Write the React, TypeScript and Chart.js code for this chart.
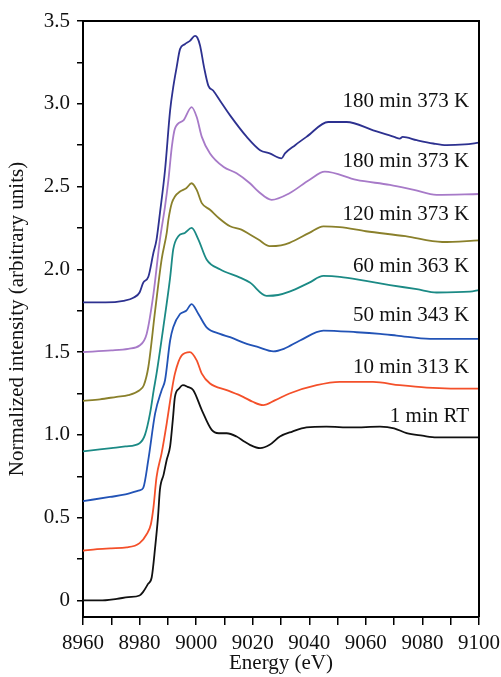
import React, { useEffect, useRef } from "react";
import { Chart, registerables } from "chart.js";

Chart.register(...registerables);

// ---- Data ----
const seriesNames = [
  "180 min 373 K",
  "180 min 373 K",
  "120 min 373 K",
  "60 min 363 K",
  "50 min 343 K",
  "10 min 313 K",
  "1 min RT",
];
const seriesColors = ["#2d3190", "#a77ac8", "#8a802b", "#1b8a85", "#2253b6", "#f4502a", "#111111"];

const energyA = [8960, 8968, 8974.3, 8978, 8980, 8981.3, 8983.1, 8984.9, 8986, 8987.2, 8989, 8990.8, 8991.9, 8993.1, 8994.3, 8996, 8997.8, 8999.6, 9000.4, 9001.4, 9002.8, 9004.3, 9006, 9008.4, 9012, 9017.9, 9022.6, 9026, 9030.2, 9031.4, 9035, 9039, 9046.7, 9053.2, 9062.6, 9070, 9072, 9073, 9078, 9083.8, 9088.5, 9095, 9100];
const intensityA = [1.80, 1.80, 1.81, 1.83, 1.86, 1.92, 1.955, 2.10, 2.18, 2.34, 2.60, 2.96, 3.10, 3.22, 3.33, 3.36, 3.38, 3.41, 3.40, 3.35, 3.22, 3.11, 3.08, 3.02, 2.93, 2.80, 2.72, 2.70, 2.67, 2.70, 2.75, 2.80, 2.89, 2.89, 2.84, 2.80, 2.79, 2.80, 2.78, 2.76, 2.75, 2.755, 2.765];

const energyB = [8960, 8970, 8976, 8980, 8982.5, 8984.9, 8987.2, 8989, 8990.2, 8991.4, 8992.5, 8995.5, 8998.4, 9000.2, 9002, 9004.9, 9009.6, 9014.3, 9019, 9022, 9026.7, 9033, 9040, 9045.5, 9056.7, 9068.5, 9077, 9085, 9100];
const intensityB = [1.50, 1.51, 1.52, 1.54, 1.61, 1.85, 2.18, 2.38, 2.54, 2.74, 2.85, 2.90, 2.98, 2.92, 2.80, 2.70, 2.62, 2.58, 2.52, 2.47, 2.42, 2.46, 2.54, 2.59, 2.54, 2.51, 2.48, 2.45, 2.455];

const energyC = [8960, 8966, 8971.9, 8976, 8980, 8981.5, 8983.1, 8985.5, 8987.8, 8989.6, 8990.2, 8991.4, 8992.5, 8994.3, 8996.5, 8998.4, 9000.2, 9002, 9004.9, 9008, 9012, 9016, 9019, 9022, 9026, 9030, 9033, 9040, 9045, 9050.8, 9060, 9074, 9087, 9100];
const intensityC = [1.205, 1.215, 1.23, 1.24, 1.27, 1.30, 1.41, 1.75, 2.06, 2.22, 2.30, 2.40, 2.44, 2.47, 2.49, 2.52, 2.48, 2.40, 2.36, 2.31, 2.26, 2.24, 2.21, 2.18, 2.14, 2.145, 2.16, 2.22, 2.26, 2.255, 2.23, 2.20, 2.165, 2.175];

const energyD = [8960, 8970, 8975, 8980, 8981.9, 8983.7, 8985, 8986, 8988.4, 8990.8, 8991.9, 8993.7, 8996, 8998.4, 9000.8, 9003.7, 9008.4, 9015.5, 9019, 9024.9, 9029, 9033, 9040, 9045, 9050.8, 9060, 9068.5, 9078, 9085, 9096.8, 9100];
const intensityD = [0.90, 0.92, 0.93, 0.95, 1.00, 1.13, 1.27, 1.37, 1.65, 1.95, 2.12, 2.20, 2.22, 2.25, 2.18, 2.06, 2.00, 1.95, 1.92, 1.84, 1.845, 1.865, 1.92, 1.96, 1.955, 1.93, 1.905, 1.88, 1.86, 1.865, 1.875];

const energyE = [8960, 8969.5, 8975, 8980, 8981.3, 8983.1, 8985.5, 8987.8, 8989, 8990.8, 8991.9, 8994.3, 8996.5, 8998.4, 9000.8, 9003.7, 9008.4, 9012, 9017.9, 9022, 9027.3, 9031, 9036.7, 9045, 9056.8, 9065, 9070.9, 9082.7, 9090, 9100];
const intensityE = [0.60, 0.625, 0.64, 0.665, 0.68, 0.85, 1.13, 1.27, 1.33, 1.57, 1.65, 1.73, 1.75, 1.79, 1.73, 1.65, 1.61, 1.59, 1.55, 1.53, 1.505, 1.52, 1.57, 1.63, 1.62, 1.61, 1.60, 1.58, 1.58, 1.58];

const energyF = [8960, 8965, 8970, 8975.4, 8980, 8982.5, 8984, 8984.9, 8986, 8987.8, 8989.6, 8991.4, 8992.5, 8994.9, 8997.8, 9000.2, 9002, 9004.9, 9010.8, 9016.6, 9020, 9023.7, 9028, 9033, 9042.6, 9050.8, 9062.5, 9072, 9081.5, 9090, 9100];
const intensityF = [0.30, 0.31, 0.315, 0.32, 0.346, 0.40, 0.46, 0.56, 0.745, 0.89, 1.07, 1.27, 1.37, 1.48, 1.50, 1.45, 1.37, 1.31, 1.27, 1.23, 1.20, 1.18, 1.21, 1.25, 1.30, 1.32, 1.32, 1.30, 1.285, 1.28, 1.28];

const energyG = [8960, 8966, 8972, 8976, 8980, 8981.2, 8983, 8984.3, 8985.5, 8986.5, 8987.2, 8988.5, 8989.6, 8990.8, 8991.8, 8992.5, 8994, 8995.3, 8997, 8999, 9002, 9005.5, 9008, 9010.8, 9014.3, 9017, 9019, 9022.6, 9026, 9029.6, 9034, 9039, 9046, 9055, 9065, 9070, 9074.4, 9080, 9085, 9092, 9100];
const intensityG = [0, 0.0, 0.01, 0.02, 0.03, 0.05, 0.10, 0.14, 0.32, 0.50, 0.67, 0.76, 0.85, 0.93, 1.10, 1.23, 1.28, 1.30, 1.29, 1.27, 1.15, 1.03, 1.01, 1.01, 0.99, 0.96, 0.94, 0.92, 0.94, 0.99, 1.02, 1.045, 1.05, 1.045, 1.05, 1.04, 1.01, 0.995, 0.985, 0.985, 0.985];

const seriesEnergy = [energyA, energyB, energyC, energyD, energyE, energyF, energyG];
const seriesIntensity = [intensityA, intensityB, intensityC, intensityD, intensityE, intensityF, intensityG];

// label anchors in data units
const labelEnergy = 9096.5;
const labelIntensity = [3.013, 2.65, 2.33, 2.015, 1.72, 1.41, 1.11];

const xTickValues = [8960, 8970, 8980, 8990, 9000, 9010, 9020, 9030, 9040, 9050, 9060, 9070, 9080, 9090, 9100];
const xTickLabels = ["8960", "", "8980", "", "9000", "", "9020", "", "9040", "", "9060", "", "9080", "", "9100"];
const yTickValues = [0, 0.25, 0.5, 0.75, 1.0, 1.25, 1.5, 1.75, 2.0, 2.25, 2.5, 2.75, 3.0, 3.25, 3.5];
const yTickLabels = ["0", "", "0.5", "", "1.0", "", "1.5", "", "2.0", "", "2.5", "", "3.0", "", "3.5"];

const FONT = '"Liberation Serif", "Times New Roman", serif';

export default function App() {
  const canvasRef = useRef<HTMLCanvasElement | null>(null);

  useEffect(() => {
    document.body.style.margin = "0";
    const canvas = canvasRef.current;
    if (!canvas) return;

    const framePlugin = {
      id: "frameAndLabels",
      afterDatasetsDraw(chart: any) {
        const { ctx, chartArea, scales } = chart;
        ctx.save();
        ctx.strokeStyle = "#000";
        ctx.lineWidth = 2;
        ctx.beginPath();
        ctx.moveTo(chartArea.left, chartArea.top);
        ctx.lineTo(chartArea.right, chartArea.top);
        ctx.lineTo(chartArea.right, chartArea.bottom);
        ctx.stroke();
        ctx.font = `21px ${FONT}`;
        ctx.fillStyle = "#111";
        ctx.textAlign = "right";
        ctx.textBaseline = "middle";
        seriesNames.forEach((name, i) => {
          ctx.fillText(name, scales.x.getPixelForValue(labelEnergy), scales.y.getPixelForValue(labelIntensity[i]));
        });
        ctx.restore();
      },
    };

    const chart = new Chart(canvas, {
      type: "line",
      data: {
        datasets: seriesNames.map((name, i) => ({
          label: name,
          data: seriesEnergy[i].map((e, j) => ({ x: e, y: seriesIntensity[i][j] })),
          borderColor: seriesColors[i],
          backgroundColor: seriesColors[i],
          borderWidth: 1.8,
          pointRadius: 0,
          cubicInterpolationMode: "monotone",
          fill: false,
        })),
      },
      options: {
        animation: false,
        responsive: false,
        maintainAspectRatio: false,
        layout: { padding: { left: 0, right: 22, top: 21, bottom: 0 } },
        plugins: { legend: { display: false }, tooltip: { enabled: false } },
        scales: {
          x: {
            type: "linear",
            min: 8960,
            max: 9100,
            afterBuildTicks: (axis: any) => {
              axis.ticks = xTickValues.map((v) => ({ value: v }));
            },
            afterFit: (axis: any) => {
              axis.height = 60;
              axis.paddingLeft = 0;
              axis.paddingRight = 0;
            },
            ticks: {
              autoSkip: false,
              maxRotation: 0,
              padding: 6,
              color: "#111",
              font: { family: FONT, size: 21 },
              callback: (v: any) => {
                const idx = xTickValues.indexOf(Number(v));
                return idx >= 0 ? xTickLabels[idx] : "";
              },
            },
            grid: { drawOnChartArea: false, drawTicks: true, tickLength: 8, color: "#000", lineWidth: 1.5 },
            border: { color: "#000", width: 2 },
            title: {
              display: true,
              text: "Energy (eV)",
              color: "#111",
              font: { family: FONT, size: 21 },
              padding: { top: 0, bottom: 1 },
            },
          },
          y: {
            type: "linear",
            min: -0.1,
            max: 3.5,
            afterBuildTicks: (axis: any) => {
              axis.ticks = yTickValues.map((v) => ({ value: v }));
            },
            afterFit: (axis: any) => {
              axis.width = 83;
              axis.paddingTop = 0;
              axis.paddingBottom = 0;
            },
            ticks: {
              autoSkip: false,
              padding: 7,
              color: "#111",
              font: { family: FONT, size: 21 },
              callback: (v: any) => {
                const idx = yTickValues.indexOf(Number(v));
                return idx >= 0 ? yTickLabels[idx] : "";
              },
            },
            grid: { drawOnChartArea: false, drawTicks: true, tickLength: 6, color: "#000", lineWidth: 1.5 },
            border: { color: "#000", width: 2 },
            title: {
              display: true,
              text: "Normalized intensity (arbitrary units)",
              color: "#111",
              font: { family: FONT, size: 21 },
              padding: { top: 5, bottom: 0 },
            },
          },
        },
      },
      plugins: [framePlugin],
    } as any);

    return () => chart.destroy();
  }, []);

  return (
    <div style={{ position: "relative", width: 501, height: 677 }}>
      <canvas ref={canvasRef} width={501} height={677} style={{ display: "block" }} />
    </div>
  );
}
